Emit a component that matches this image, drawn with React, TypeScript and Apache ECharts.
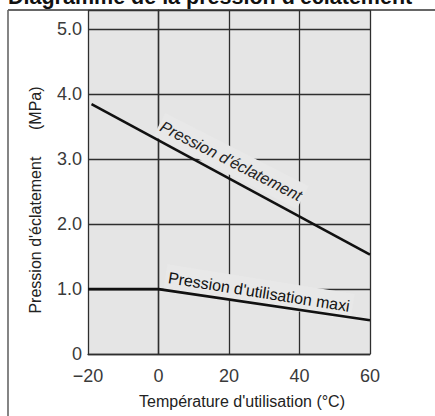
import React, { useEffect, useRef } from "react";
import * as echarts from "echarts";

const title = "Diagramme de la pression d'éclatement";
const xName = "Température d'utilisation (°C)";
const yName = "Pression d'éclatement      (MPa)";
const xTicks = [-20, 0, 20, 40, 60];
const yTicks = [0, 1, 2, 3, 4, 5];
const burstTemp = [-19, 60];
const burstPressure = [3.85, 1.53];
const maxTemp = [-20, 0, 60];
const maxPressure = [1.0, 1.0, 0.52];
const burstLabel = "Pression d'éclatement";
const maxLabel = "Pression d'utilisation maxi";

const FONT = "'Liberation Sans', Arial, Helvetica, sans-serif";

export default function App() {
  const ref = useRef<HTMLDivElement>(null);
  useEffect(() => {
    if (!ref.current) return;
    const chart = echarts.init(ref.current, undefined, { renderer: "svg" });
    const gridColor = "#2e2e2e";
    chart.setOption({
      animation: false,
      backgroundColor: "#ffffff",
      textStyle: { fontFamily: FONT },
      grid: {
        left: 88,
        top: 10,
        right: 65,
        bottom: 62,
        show: true,
        backgroundColor: "#e5e5e5",
        borderWidth: 0,
      },
      xAxis: {
        type: "value",
        min: xTicks[0],
        max: xTicks[xTicks.length - 1],
        interval: 20,
        axisLine: { show: true, onZero: false, lineStyle: { color: gridColor, width: 1.4 } },
        axisTick: { show: false },
        splitLine: { show: true, lineStyle: { color: gridColor, width: 1.3 } },
        axisLabel: {
          margin: 13,
          fontSize: 18,
          color: "#3a3a3a",
          fontFamily: FONT,
          formatter: (v: number) => (v < 0 ? "\u2212" + Math.abs(v) : String(v)),
        },
      },
      yAxis: {
        type: "value",
        min: yTicks[0],
        max: 5.3,
        interval: 1,
        axisLine: { show: true, lineStyle: { color: gridColor, width: 1.4 } },
        axisTick: { show: false },
        splitLine: { show: true, lineStyle: { color: gridColor, width: 1.3 } },
        axisLabel: {
          margin: 6,
          fontSize: 18,
          color: "#3a3a3a",
          fontFamily: FONT,
          formatter: (v: number) =>
            yTicks.indexOf(v) < 0 ? "" : v === 0 ? "0" : v.toFixed(1),
        },
      },
      series: [
        {
          type: "line",
          name: burstLabel,
          z: 5,
          data: burstTemp.map((t, i) => [t, burstPressure[i]]),
          showSymbol: false,
          lineStyle: { color: "#111", width: 2.6 },
        },
        {
          type: "line",
          name: maxLabel,
          z: 5,
          data: maxTemp.map((t, i) => [t, maxPressure[i]]),
          showSymbol: false,
          lineStyle: { color: "#111", width: 2.6 },
        },
      ],
      graphic: [
        {
          type: "line",
          z: 10,
          shape: { x1: 8, y1: 10, x2: 435, y2: 10 },
          style: { stroke: "#333", lineWidth: 1.5 },
        },
        {
          type: "line",
          z: 10,
          shape: { x1: 8, y1: 10, x2: 8, y2: 416 },
          style: { stroke: "#666", lineWidth: 1.6 },
        },
        {
          type: "text",
          z: 10,
          x: 8,
          y: 8,
          style: {
            text: title,
            font: `bold 21.5px ${FONT}`,
            fill: "#111",
            align: "left",
            verticalAlign: "bottom",
          },
        },
        {
          type: "text",
          z: 10,
          x: 242,
          y: 401,
          style: {
            text: xName,
            font: `16px ${FONT}`,
            fill: "#222",
            align: "center",
            verticalAlign: "middle",
          },
        },
        {
          type: "text",
          z: 10,
          x: 35,
          y: 200,
          rotation: Math.PI / 2,
          style: {
            text: yName,
            font: `16px ${FONT}`,
            fill: "#222",
            align: "center",
            verticalAlign: "middle",
          },
        },
        {
          type: "text",
          z: 1,
          x: 231,
          y: 161,
          rotation: (-27 * Math.PI) / 180,
          style: {
            text: burstLabel,
            font: `italic 16px ${FONT}`,
            fill: "#222",
            align: "center",
            verticalAlign: "middle",
            backgroundColor: "#e8e8e8",
            padding: [5, 2],
          },
        },
        {
          type: "text",
          z: 1,
          x: 259,
          y: 292,
          rotation: (-9 * Math.PI) / 180,
          style: {
            text: maxLabel,
            font: `16px ${FONT}`,
            fill: "#111",
            align: "center",
            verticalAlign: "middle",
            backgroundColor: "#e8e8e8",
            padding: [5, 3],
          },
        },
      ],
    });
    return () => chart.dispose();
  }, []);
  return <div ref={ref} style={{ width: 435, height: 416, position: "absolute", left: 0, top: 0 }} />;
}
